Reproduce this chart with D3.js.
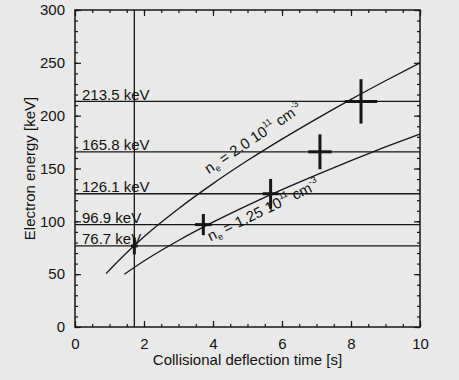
<!DOCTYPE html>
<html>
<head>
<meta charset="utf-8">
<script src="https://cdn.jsdelivr.net/npm/d3@7"></script>
<style>
  html, body { margin: 0; padding: 0; background: #e9e9e9; }
  svg { display: block; }
  text { font-family: "Liberation Sans", Arial, Helvetica, sans-serif; fill: #111; }
</style>
</head>
<body>
<svg id="chart" width="459" height="380"></svg>
<script>
// ---- data ----
const xTicks = [0, 2, 4, 6, 8, 10];
const yTicks = [0, 50, 100, 150, 200, 250, 300];
const levelEnergies = [213.5, 165.8, 126.1, 96.9, 76.7];
const levelLabels = ["213.5 keV", "165.8 keV", "126.1 keV", "96.9 keV", "76.7 keV"];
const markerTime = 1.72;

// measured points with error bars: time [s], energy [keV], dt, dE
const ptTime   = [1.72, 3.72, 5.67, 7.10, 8.29];
const ptEnergy = [76.7, 96.9, 126.1, 165.8, 213.5];
const ptTimeErr   = [0.10, 0.24, 0.23, 0.34, 0.47];
const ptEnergyErr = [8, 10, 14, 16.5, 21];

// curve n_e = 2.0e11 cm^-3
const curveHighT = [0.9, 1, 2, 3, 4, 5, 6, 7, 8, 9, 10];
const curveHighE = [50.5, 54, 85.5, 112, 135.7, 157.5, 177.8, 197, 215.4, 233, 250];
// curve n_e = 1.25e11 cm^-3
const curveLowT = [1.43, 2, 3, 4, 5, 6, 7, 8, 9, 10];
const curveLowE = [50, 62.5, 81.9, 99.2, 115.1, 130, 144, 157.5, 170.4, 182.7];

// ---- layout ----
const L = 75, R = 420, T = 10, B = 327;
const svg = d3.select("#chart");
const x = d3.scaleLinear().domain([0, 10]).range([L, R]);
const y = d3.scaleLinear().domain([0, 300]).range([B, T]);
const ink = "#161616";

// level lines
svg.append("g").selectAll("line").data(levelEnergies).join("line")
  .attr("x1", x(0)).attr("x2", x(10))
  .attr("y1", d => y(d)).attr("y2", d => y(d))
  .attr("stroke", ink).attr("stroke-width", 1.3);

// vertical marker
svg.append("line")
  .attr("x1", x(markerTime)).attr("x2", x(markerTime))
  .attr("y1", y(0)).attr("y2", y(300))
  .attr("stroke", ink).attr("stroke-width", 1.3);

// level labels
svg.append("g").selectAll("text").data(levelLabels).join("text")
  .attr("x", x(0) + 7)
  .attr("y", (d, i) => y(levelEnergies[i]) - 1.5)
  .attr("font-size", 15)
  .text(d => d);

// curves
const line = d3.line().x(d => x(d[0])).y(d => y(d[1])).curve(d3.curveMonotoneX);
svg.append("path").datum(curveHighT.map((t, i) => [t, curveHighE[i]]))
  .attr("d", line).attr("fill", "none").attr("stroke", ink).attr("stroke-width", 1.3);
svg.append("path").datum(curveLowT.map((t, i) => [t, curveLowE[i]]))
  .attr("d", line).attr("fill", "none").attr("stroke", ink).attr("stroke-width", 1.3);

// curve labels
function curveLabel(t, e, angle, dens) {
  const g = svg.append("text")
    .attr("transform", `translate(${x(t)},${y(e)}) rotate(${angle})`)
    .attr("font-size", 15);
  g.append("tspan").text("n");
  g.append("tspan").attr("font-size", 9).attr("dy", 3).text("e");
  g.append("tspan").attr("dy", -3).text(" = " + dens + " 10");
  g.append("tspan").attr("font-size", 9).attr("dy", -7).text("11");
  g.append("tspan").attr("dy", 7).text(" cm");
  g.append("tspan").attr("font-size", 9).attr("dy", -7).text("-3");
}
curveLabel(3.88, 144.5, -34, "2.0");
curveLabel(3.93, 81, -26, "1.25");

// error-bar crosses
const pts = ptTime.map((t, i) => ({t, e: ptEnergy[i], dt: ptTimeErr[i], de: ptEnergyErr[i]}));
const crosses = svg.append("g");
crosses.selectAll("line.v").data(pts).join("line").attr("class", "v")
  .attr("x1", d => x(d.t)).attr("x2", d => x(d.t))
  .attr("y1", d => y(d.e - d.de)).attr("y2", d => y(d.e + d.de))
  .attr("stroke", ink).attr("stroke-width", 3);
crosses.selectAll("line.h").data(pts).join("line").attr("class", "h")
  .attr("x1", d => x(d.t - d.dt)).attr("x2", d => x(d.t + d.dt))
  .attr("y1", d => y(d.e)).attr("y2", d => y(d.e))
  .attr("stroke", ink).attr("stroke-width", 3);

// axes with inward ticks
function styleAxis(g) {
  g.select(".domain").remove();
  g.selectAll("line").attr("stroke", ink).attr("stroke-width", 1.2);
  g.selectAll("text").attr("font-size", 15).attr("fill", "#111")
    .attr("font-family", '"Liberation Sans", Arial, sans-serif');
}
const xMinor = d3.range(0, 10.01, 0.5);
const yMinor = d3.range(0, 300.1, 10);

svg.append("g").attr("transform", `translate(0,${B})`)
  .call(d3.axisBottom(x).tickValues(xMinor).tickSize(-3).tickFormat(""))
  .call(styleAxis);
svg.append("g").attr("transform", `translate(0,${B})`)
  .call(d3.axisBottom(x).tickValues(xTicks).tickSize(-6).tickPadding(11).tickFormat(d3.format("d")))
  .call(styleAxis)
  .call(g => g.selectAll("text").attr("dy", "0.71em"));
svg.append("g").attr("transform", `translate(0,${T})`)
  .call(d3.axisTop(x).tickValues(xMinor).tickSize(-3).tickFormat(""))
  .call(styleAxis);
svg.append("g").attr("transform", `translate(0,${T})`)
  .call(d3.axisTop(x).tickValues(xTicks).tickSize(-6).tickFormat(""))
  .call(styleAxis);

svg.append("g").attr("transform", `translate(${L},0)`)
  .call(d3.axisLeft(y).tickValues(yMinor).tickSize(-3).tickFormat(""))
  .call(styleAxis);
svg.append("g").attr("transform", `translate(${L},0)`)
  .call(d3.axisLeft(y).tickValues(yTicks).tickSize(-6).tickPadding(10).tickFormat(d3.format("d")))
  .call(styleAxis);
svg.append("g").attr("transform", `translate(${R},0)`)
  .call(d3.axisRight(y).tickValues(yMinor).tickSize(-3).tickFormat(""))
  .call(styleAxis);
svg.append("g").attr("transform", `translate(${R},0)`)
  .call(d3.axisRight(y).tickValues(yTicks).tickSize(-6).tickFormat(""))
  .call(styleAxis);

// frame
svg.append("rect").attr("x", L).attr("y", T).attr("width", R - L).attr("height", B - T)
  .attr("fill", "none").attr("stroke", ink).attr("stroke-width", 1.5);

// axis titles
svg.append("text").attr("x", (L + R) / 2).attr("y", 365)
  .attr("text-anchor", "middle").attr("font-size", 15)
  .text("Collisional deflection time [s]");
svg.append("text")
  .attr("transform", `translate(35,${(T + B) / 2}) rotate(-90)`)
  .attr("text-anchor", "middle").attr("font-size", 15)
  .text("Electron energy [keV]");
</script>
</body>
</html>
